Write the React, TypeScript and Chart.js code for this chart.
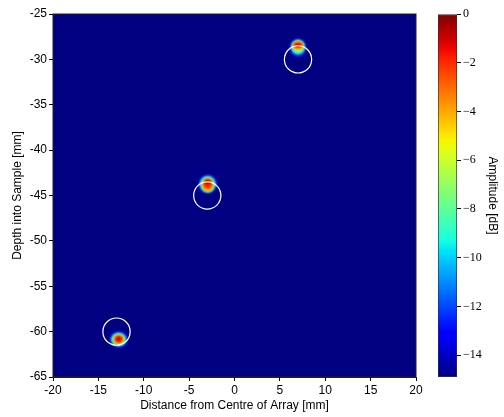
import React, { useEffect, useRef } from "react";
import { Chart, registerables } from "chart.js";

Chart.register(...registerables);

// ---- axes ----
const xMin = -20;
const xMax = 20;
const yMin = -65;
const yMax = -25;
const xLabel = "Distance from Centre of Array [mm]";
const yLabel = "Depth into Sample [mm]";

// ---- reflector circles (mm) ----
const circleX = [7, -3, -13];
const circleY = [-30, -45, -60];
const circleRadius = 1.5;

// ---- colour bar ----
const cbMin = -14.9;
const cbMax = 0;
const cbTicks = [0, -2, -4, -6, -8, -10, -12, -14];
const cbLabel = "Amplitude [dB]";

// ---- hot spots: contour layers (dB level, centre, half-widths in mm) ----
const spotLevels = [-13, -10, -7, -4, -2, -0.8];
const spotCentreX = [7.0, -2.95, -12.76];
const spot1Y = [-28.72, -28.67, -28.6, -28.48, -28.42, -28.4];
const spot1Rx = [0.92, 0.8, 0.69, 0.62, 0.5, 0.32];
const spot1Ry = [1.02, 0.84, 0.7, 0.47, 0.29, 0.16];
const spot2Y = [-43.75, -43.75, -43.8, -43.84, -43.73, -43.5];
const spot2Rx = [1.02, 0.9, 0.76, 0.62, 0.48, 0.35];
const spot2Ry = [1.02, 0.93, 0.84, 0.7, 0.52, 0.24];
const spot3Y = [-60.87, -60.87, -60.87, -60.85, -60.83, -60.82];
const spot3Rx = [1.02, 0.87, 0.72, 0.57, 0.42, 0.25];
const spot3Ry = [0.91, 0.76, 0.65, 0.51, 0.38, 0.22];

const spotYs = [spot1Y, spot2Y, spot3Y];
const spotRxs = [spot1Rx, spot2Rx, spot3Rx];
const spotRys = [spot1Ry, spot2Ry, spot3Ry];

// ---- jet colormap ----
function seg(pts: number[][], t: number) {
  if (t <= pts[0][0]) return pts[0][1];
  for (let i = 1; i < pts.length; i++) {
    if (t <= pts[i][0]) {
      const [x0, y0] = pts[i - 1];
      const [x1, y1] = pts[i];
      return y0 + ((t - x0) / (x1 - x0)) * (y1 - y0);
    }
  }
  return pts[pts.length - 1][1];
}
function jet(t: number) {
  const r = seg([[0, 0], [0.35, 0], [0.66, 1], [0.89, 1], [1, 0.5]], t);
  const g = seg([[0, 0], [0.125, 0], [0.375, 1], [0.64, 1], [0.91, 0], [1, 0]], t);
  const b = seg([[0, 0.5], [0.11, 1], [0.34, 1], [0.65, 0], [1, 0]], t);
  return `rgb(${Math.round(r * 255)},${Math.round(g * 255)},${Math.round(b * 255)})`;
}
const norm = (v: number) => Math.max(0, Math.min(1, (v - cbMin) / (cbMax - cbMin)));

const sans = "'Liberation Sans', 'DejaVu Sans', sans-serif";
const serif = "'Liberation Serif', 'DejaVu Serif', serif";

const heatPlugin = {
  id: "heat",
  beforeDatasetsDraw(chart: any) {
    const { ctx, chartArea: a, scales } = chart;
    const x = scales.x;
    const y = scales.y;
    ctx.save();
    ctx.beginPath();
    ctx.rect(a.left, a.top, a.width, a.height);
    ctx.clip();
    ctx.fillStyle = jet(0);
    ctx.fillRect(a.left, a.top, a.width, a.height);
    ctx.filter = "blur(0.8px)";
    spotCentreX.forEach((cx, s) => {
      spotLevels.forEach((lv, i) => {
        const px = x.getPixelForValue(cx);
        const py = y.getPixelForValue(spotYs[s][i]);
        const rx = Math.abs(x.getPixelForValue(cx + spotRxs[s][i]) - px);
        const ry = Math.abs(y.getPixelForValue(spotYs[s][i] + spotRys[s][i]) - py);
        ctx.beginPath();
        ctx.ellipse(px, py, rx, ry, 0, 0, Math.PI * 2);
        ctx.fillStyle = jet(norm(lv));
        ctx.fill();
      });
    });
    ctx.restore();
  },
  afterDraw(chart: any) {
    const { ctx, chartArea: a } = chart;
    ctx.save();
    ctx.strokeStyle = "#222";
    ctx.lineWidth = 1;
    ctx.strokeRect(a.left, a.top, a.width, a.height);
    ctx.restore();
  },
};

export default function App() {
  const mainRef = useRef<HTMLCanvasElement>(null);
  const cbRef = useRef<HTMLCanvasElement>(null);

  useEffect(() => {
    const circleR = (c: any) => {
      const s = c.chart.scales.x;
      return Math.abs(s.getPixelForValue(circleRadius) - s.getPixelForValue(0));
    };
    const main = new Chart(mainRef.current!, {
      type: "scatter",
      data: {
        datasets: [
          {
            data: circleX.map((x, i) => ({ x, y: circleY[i] })),
            pointRadius: circleR,
            pointHoverRadius: circleR,
            pointBackgroundColor: "rgba(0,0,0,0)",
            pointBorderColor: "#ffffff",
            pointBorderWidth: 1.2,
          } as any,
        ],
      },
      options: {
        responsive: false,
        animation: false,
        events: [],
        plugins: { legend: { display: false }, tooltip: { enabled: false } },
        layout: { padding: { top: 14, right: 14, left: 0, bottom: 0 } },
        scales: {
          x: {
            type: "linear",
            min: xMin,
            max: xMax,
            ticks: { stepSize: 5, color: "#000", font: { family: sans, size: 12 }, maxRotation: 0, autoSkip: false, padding: 2 },
            grid: { drawOnChartArea: false, tickLength: 4, tickColor: "#000" },
            border: { display: true, color: "#222" },
            title: { display: true, text: xLabel, color: "#000", font: { family: sans, size: 12 }, padding: { top: 0, bottom: 4 } },
            afterFit: (s: any) => { s.height = 40; },
          },
          y: {
            type: "linear",
            min: yMin,
            max: yMax,
            ticks: { stepSize: 5, color: "#000", font: { family: sans, size: 12 }, autoSkip: false, padding: 2 },
            grid: { drawOnChartArea: false, tickLength: 4, tickColor: "#000" },
            border: { display: true, color: "#222" },
            title: { display: true, text: yLabel, color: "#000", font: { family: sans, size: 12 }, padding: { top: 10, bottom: 0 } },
            afterFit: (s: any) => { s.width = 53; },
          },
        },
      } as any,
      plugins: [heatPlugin],
    });

    const cb = new Chart(cbRef.current!, {
      type: "bar",
      data: {
        labels: ["cb"],
        datasets: [
          {
            data: [[cbMin, cbMax]] as any,
            backgroundColor: (c: any) => {
              const chart = c.chart;
              if (!chart.chartArea) return jet(0);
              const ys = chart.scales.y;
              const g = chart.ctx.createLinearGradient(0, ys.getPixelForValue(cbMin), 0, ys.getPixelForValue(cbMax));
              for (let i = 0; i <= 40; i++) g.addColorStop(i / 40, jet(i / 40));
              return g;
            },
            borderColor: "#333",
            borderWidth: 1,
            borderSkipped: false,
            barPercentage: 1,
            categoryPercentage: 1,
          } as any,
        ],
      },
      options: {
        responsive: false,
        animation: false,
        events: [],
        plugins: { legend: { display: false }, tooltip: { enabled: false } },
        layout: { padding: { left: 8, top: 14, bottom: 40, right: 0 } },
        scales: {
          x: { display: false },
          y: {
            position: "right",
            min: cbMin,
            max: cbMax,
            afterBuildTicks: (s: any) => { s.ticks = cbTicks.map((v) => ({ value: v })); },
            ticks: {
              color: "#000",
              font: { family: serif, size: 12 },
              padding: 2,
              callback: (v: any) => (v < 0 ? "\u2212" + Math.abs(v) : String(v)),
            },
            grid: { drawOnChartArea: false, tickLength: 4, tickColor: "#000" },
            border: { display: false },
            title: { display: true, text: cbLabel, color: "#000", font: { family: sans, size: 12 }, padding: { top: 4, bottom: 0 } },
            afterFit: (s: any) => { s.width = 47; },
          },
        },
      } as any,
    });

    return () => {
      main.destroy();
      cb.destroy();
    };
  }, []);

  return (
    <div style={{ position: "fixed", left: 0, top: 0, width: 504, height: 417, background: "#fff" }}>
      <canvas ref={mainRef} width={430} height={417} style={{ position: "absolute", left: 0, top: 0 }} />
      <canvas ref={cbRef} width={74} height={417} style={{ position: "absolute", left: 430, top: 0 }} />
    </div>
  );
}
